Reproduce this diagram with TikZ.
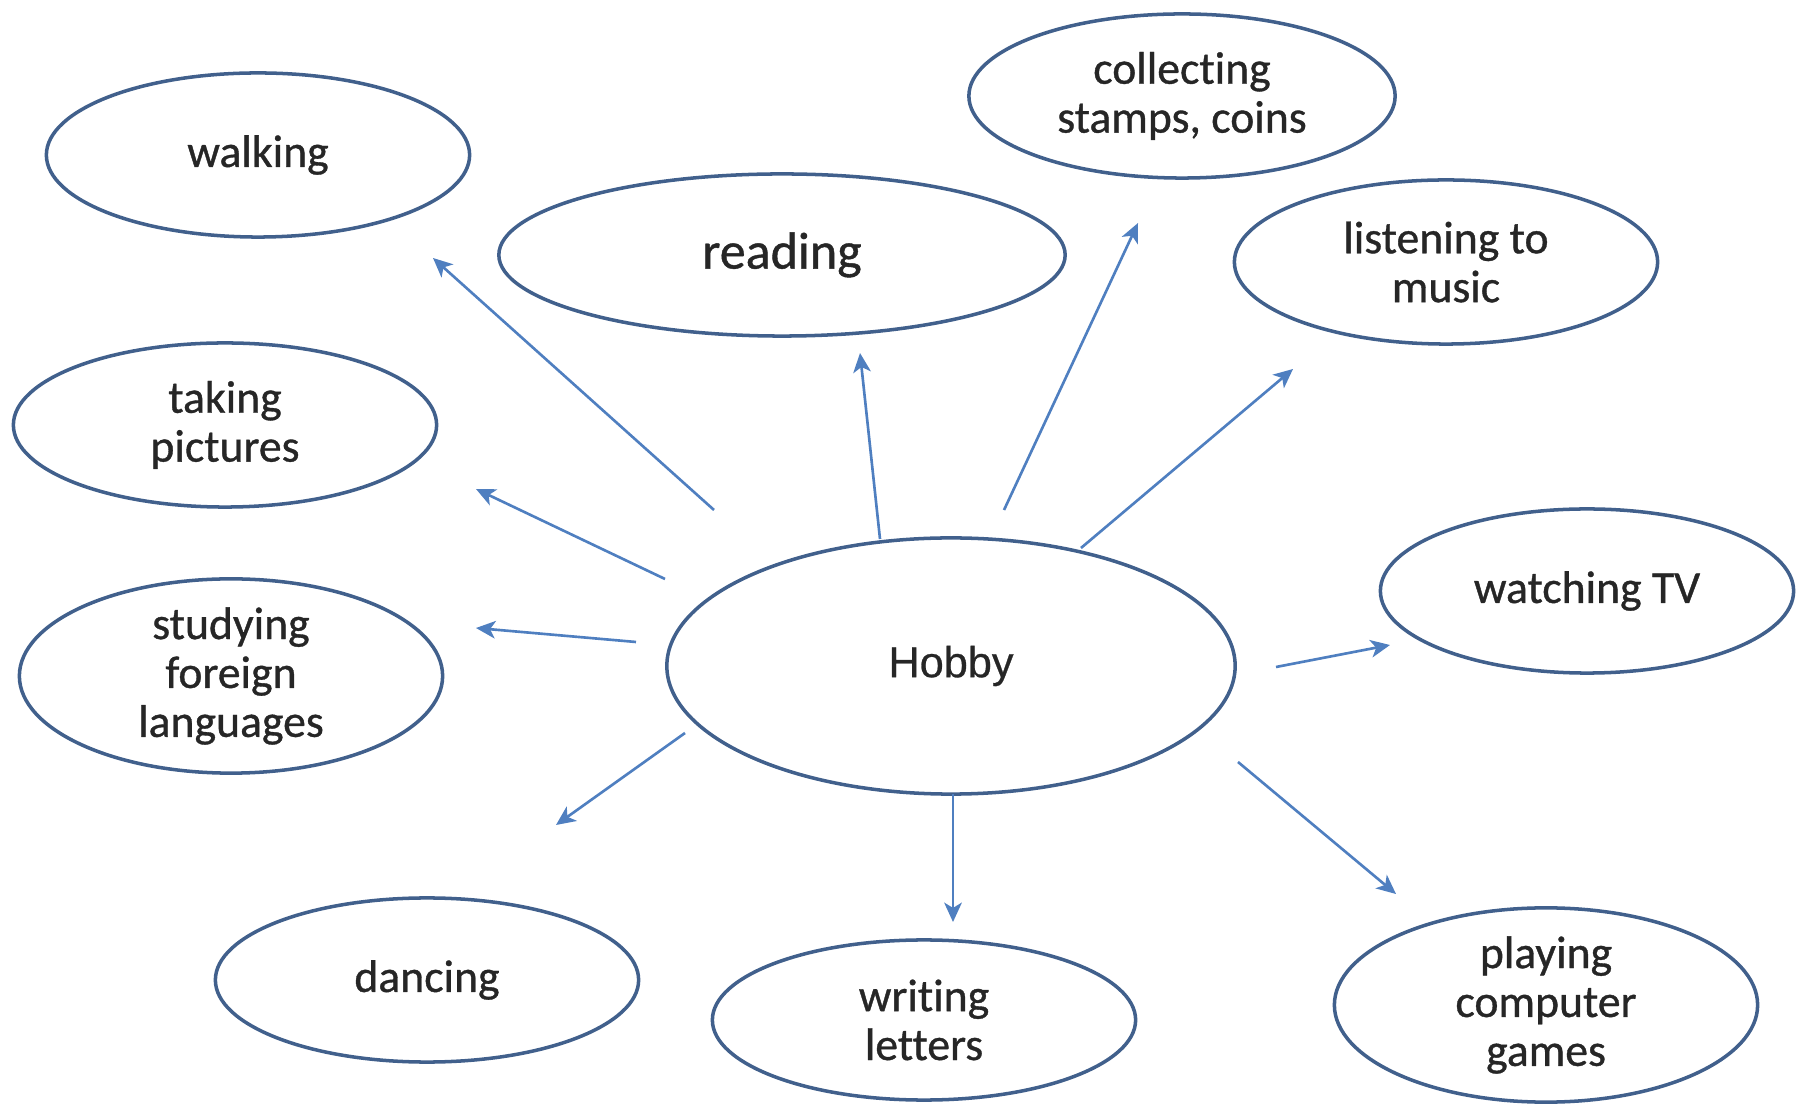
\documentclass[tikz,border=0pt]{standalone}
\usepackage{fontspec}
\setmainfont{Carlito}[FakeBold=0.8, RawFeature={-liga;-clig;-calt;-dlig;-rlig}]
\newfontfamily\hobbyfont{Liberation Sans}[FakeBold=0.6]
\usepackage{xcolor}
\definecolor{ringblue}{HTML}{41608C}
\definecolor{arrowblue}{HTML}{4F7FC0}
\definecolor{inkblack}{HTML}{262626}
\usepackage{tikz}
\usetikzlibrary{shapes.geometric,arrows.meta}

\begin{document}
\begin{tikzpicture}[x=0.01cm, y=-0.01cm,
    bubble/.style={ellipse, draw=ringblue, line width=1pt, inner sep=0pt,
      minimum width=4.23cm, minimum height=1.64cm, align=center,
      text=inkblack, font=\fontsize{13}{13.9}\selectfont},
    spoke/.style={draw=arrowblue, line width=0.75pt,
      -{Stealth[length=5.5pt, width=5pt, inset=1.5pt]}}]
    \useasboundingbox (0,0) rectangle (1797,1104);
    % centre
    \node[bubble, minimum width=5.68cm, minimum height=2.56cm,
          font=\hobbyfont\fontsize{12.3}{14}\selectfont] (hobby) at (951,666) {Hobby};
    % hobbies round it
    \node[bubble] (walking)   at (258,155)  {walking};
    \node[bubble, minimum width=5.66cm, minimum height=1.62cm,
          font=\fontsize{14.8}{16}\selectfont] (reading) at (782,255) {reading};
    \node[bubble, minimum width=4.26cm] (stamps) at (1182,96) {collecting\\stamps, coins};
    \node[bubble] (music)     at (1446,262) {listening to\\music};
    \node[bubble] (pictures)  at (225,425)  {taking\\pictures};
    \node[bubble] (languages) at (231,676)  {studying\\foreign\\languages};
    \node[bubble, minimum width=4.13cm] (tv) at (1587,591) {watching TV};
    \node[bubble] (dancing)   at (427,980)  {dancing};
    \node[bubble, minimum height=1.60cm] (letters) at (924,1020) {writing\\letters};
    \node[bubble] (games)     at (1546,1005) {playing\\computer\\games};
    % spoke ends
    \coordinate (s-walk)  at (714,510);  \coordinate (e-walk)  at (433,258);
    \coordinate (s-read)  at (880,539);  \coordinate (e-read)  at (860,353);
    \coordinate (s-stamp) at (1004,510); \coordinate (e-stamp) at (1138,223);
    \coordinate (s-music) at (1081,548); \coordinate (e-music) at (1293,369);
    \coordinate (s-pict)  at (665,579);  \coordinate (e-pict)  at (476,489);
    \coordinate (s-lang)  at (636,642);  \coordinate (e-lang)  at (476,628);
    \coordinate (s-dance) at (685,733);  \coordinate (e-dance) at (556,825);
    \coordinate (s-write) at (953,794);  \coordinate (e-write) at (953,922);
    \coordinate (s-game)  at (1238,762); \coordinate (e-game)  at (1396,894);
    \coordinate (s-tv)    at (1276,667); \coordinate (e-tv)    at (1390,645);
    \foreach \a in {walk,read,stamp,music,pict,lang,dance,write,game,tv}
      \draw[spoke] (s-\a) -- (e-\a);
\end{tikzpicture}
\end{document}
